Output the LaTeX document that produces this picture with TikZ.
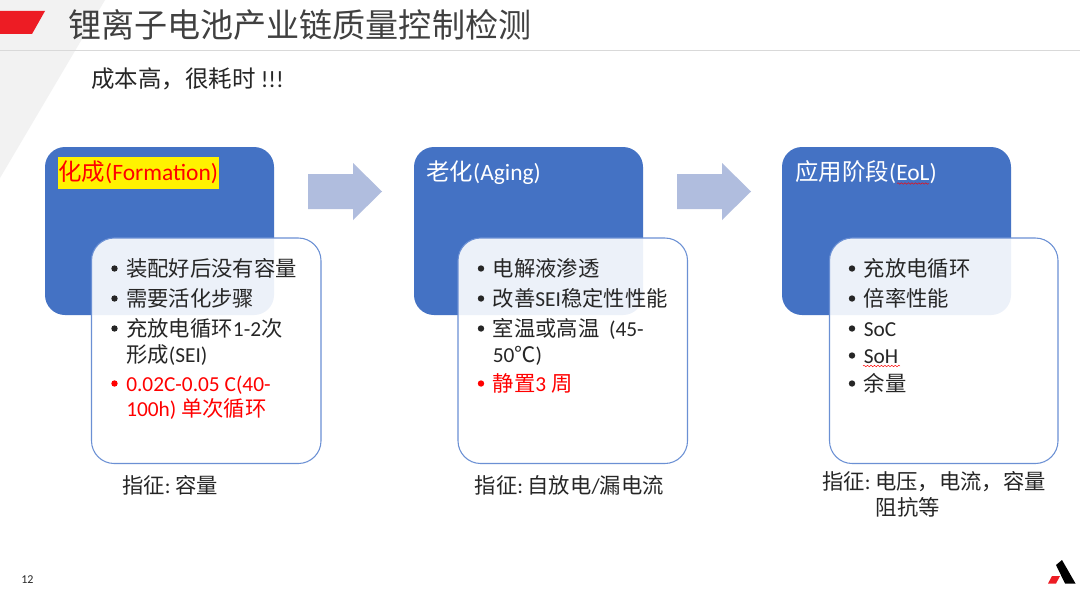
\documentclass[tikz,border=0pt]{standalone}
\usepackage{fontspec}
\setmainfont{Carlito}
\newfontfamily\cjkfont{Noto Sans CJK SC}
\newcommand{\cj}[1]{{\cjkfont #1}}
\usetikzlibrary{decorations.pathmorphing}
\definecolor{hdrblue}{HTML}{4472C4}
\definecolor{edgeblue}{HTML}{6B90D4}
\definecolor{arrowblue}{HTML}{B0BDDE}
\definecolor{txt}{HTML}{262626}
\definecolor{titletxt}{HTML}{404040}
\definecolor{logored}{HTML}{ED1C24}
\tikzset{
  x=0.75pt,y=-0.75pt,
  hdr/.style={fill=hdrblue,rounded corners=15},
  panel/.style={draw=edgeblue,line width=0.8pt,fill=white,fill opacity=0.9,rounded corners=17},
  flow/.style={fill=arrowblue},
  lab/.style={anchor=base west,inner sep=0pt,text=txt,font=\fontsize{16pt}{18pt}\selectfont},
  hl/.style={anchor=base west,inner sep=0pt,text=white,font=\fontsize{17.6pt}{20pt}\selectfont},
  dot/.style={circle,fill=#1,inner sep=0pt,minimum size=4.8pt},
  wavy/.style={draw=red,line width=0.35pt,decorate,decoration={snake,amplitude=0.55pt,segment length=2.6pt}}
}
% dot at (x, y-6.5), label with baseline at (x+11.5, y+1)
\newcommand{\rowb}[5][txt]{%
  \node[dot=#1] (d#2) at (#3,#4-6.5) {};
  \node[lab,text=#1] (t#2) at (#3+11.5,#4+1) {#5};}
\newcommand{\tsp}{\hspace{0.21em}}
\begin{document}
\begin{tikzpicture}
\useasboundingbox (0,0) rectangle (1080,592);
\fill[white] (0,0) rectangle (1080,592);
\fill[black!5] (0,0) -- (105,0) -- (0,178) -- cycle;
\fill[logored] (0,11) -- (45,11) -- (32,34) -- (0,34) -- cycle;
\draw[black!15,line width=0.7pt] (0,50.5) -- (1080,50.5);
\node[anchor=base west,inner sep=0pt,text=titletxt,font=\fontsize{24.8pt}{28pt}\selectfont] (title) at (68,38) {\cj{锂离子电池产业链质量控制检测}};
\node[anchor=base west,inner sep=0pt,text=txt,font=\fontsize{17.6pt}{20pt}\selectfont] (cost) at (91,87) {\cj{成本高，很耗时} !!!};
% header boxes
\fill[hdr] (45,147) rectangle (274,315);
\fill[hdr] (414,147) rectangle (643,315);
\fill[hdr] (782,147) rectangle (1011,315);
% arrows
\fill[flow] (308,174) -- (353,174) -- (353,163) -- (382,191.5) -- (353,220) -- (353,209) -- (308,209) -- cycle;
\fill[flow] (677,174) -- (722,174) -- (722,163) -- (751,191.5) -- (722,220) -- (722,209) -- (677,209) -- cycle;
% header labels
\fill[yellow] (57.5,157) rectangle (219,188.5);
\node[hl,text=red] (h1) at (58,180.5) {\cj{化成}(Formation)};
\node[hl] (h2) at (426,180.5) {\cj{老化}(Aging)};
\node[hl] (h3) at (795,180.5) {\cj{应用阶段}(EoL)};
\draw[wavy] (897,183.5) -- (929,183.5);
% panels
\draw[panel] (91.5,238) rectangle (321,463.5);
\draw[panel] (458,238) rectangle (687.5,463.5);
\draw[panel] (829.5,238) rectangle (1058,463.5);
% panel 1
\rowb{a1}{114.5}{275}{\cj{装配好后没有容量}}
\rowb{a2}{114.5}{305}{\cj{需要活化步骤}}
\rowb{a3}{114.5}{335}{\cj{充放电循环}1-2\cj{次}}
\node[lab] (a3b) at (126,362.5) {\cj{形成}(SEI)};
\rowb[red]{a4}{114.5}{390}{0.02C-0.05 C(40-}
\node[lab,text=red] (a4b) at (126,416) {100h) \cj{单次循环}};
% panel 2
\rowb{b1}{481}{275}{\cj{电解液渗透}}
\rowb{b2}{481}{305}{\cj{改善}SEI\cj{稳定性性能}}
\rowb{b3}{481}{335}{\cj{室温或高温} ~(45-}
\node[lab] (b3b) at (492.5,362.5) {50\cj{℃})};
\rowb[red]{b4}{481}{390}{\cj{静置}3 \cj{周}}
% panel 3
\rowb{c1}{852}{275}{\cj{充放电循环}}
\rowb{c2}{852}{305}{\cj{倍率性能}}
\rowb{c3}{852}{335}{SoC}
\rowb{c4}{852}{362}{SoH}
\rowb{c5}{852}{390}{\cj{余量}}
\draw[wavy] (863,366) -- (900,366);
% captions
\node[lab] (k1) at (122,493) {\cj{指征}:\tsp\cj{容量}};
\node[lab] (k2) at (474.5,493) {\cj{指征}:\tsp\cj{自放电}/\cj{漏电流}};
\node[lab] (k3) at (822,489.5) {\cj{指征}:\tsp\cj{电压，电流，容量}};
\node[lab] (k3b) at (875.5,515) {\cj{阻抗等}};
% footer
\node[anchor=base west,inner sep=0pt,text=txt,font=\fontsize{9pt}{10pt}\selectfont] (page) at (21,583) {12};
\fill[black] (1062,560) -- (1075.5,583.5) -- (1065,583.5) -- (1056,565) -- cycle;
\fill[logored] (1052,576) -- (1060,576) -- (1056,583.5) -- (1048,583.5) -- cycle;
\end{tikzpicture}
\end{document}
